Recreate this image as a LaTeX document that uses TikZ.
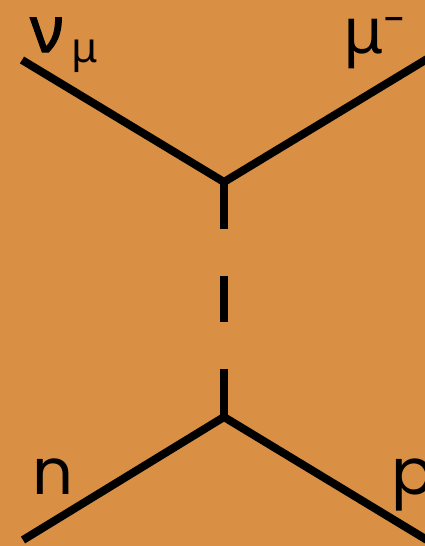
\documentclass[tikz,border=0pt]{standalone}
\usepackage{fontspec}
\setmainfont{Poppins}
\newfontfamily\greekfont{Noto Sans}
\newfontfamily\greekheavy[FakeBold=2]{Noto Sans}
\usetikzlibrary{positioning}
\definecolor{bg}{HTML}{DA9044}
\definecolor{ink}{HTML}{000000}

\begin{document}
\begin{tikzpicture}[x=1pt, y=-1pt,
  lbl/.style={inner sep=0pt, anchor=base west, font=\fontsize{64}{70}\selectfont, text=ink},
  sublbl/.style={inner sep=0pt, anchor=base west, font=\fontsize{42}{46}\selectfont, text=ink},
  leg/.style={draw=ink, line width=8pt},
  prop/.style={draw=ink, line width=8pt, dash pattern=on 46.5pt off 47pt}
]
  \fill[bg] (0,0) rectangle (425,546);
  \useasboundingbox (0,0) rectangle (425,546);

  % vertices and free ends
  \coordinate (vtop) at (224,182);
  \coordinate (vbot) at (224,417);
  \coordinate (nuin) at (22,60);
  \coordinate (muout) at (432,56);
  \coordinate (nin) at (23,540);
  \coordinate (pout) at (432,543);

  \draw[leg] (nuin) -- (vtop) -- (muout);
  \draw[leg] (nin) -- (vbot) -- (pout);
  \draw[prop] (vtop) -- (vbot);

  % labels
  \node[lbl] (nu) at (30,52) {\greekheavy ν};
  \node[sublbl] (nusub) at (71,62) {\greekfont μ};
  \node[lbl] (mu) at (343,53) {\greekfont μ};
  \node[sublbl] (muminus) at (383,34) {-};
  \node[lbl] (n) at (32,494) {n};
  \node[lbl] (p) at (391,494) {p};
\end{tikzpicture}
\end{document}
